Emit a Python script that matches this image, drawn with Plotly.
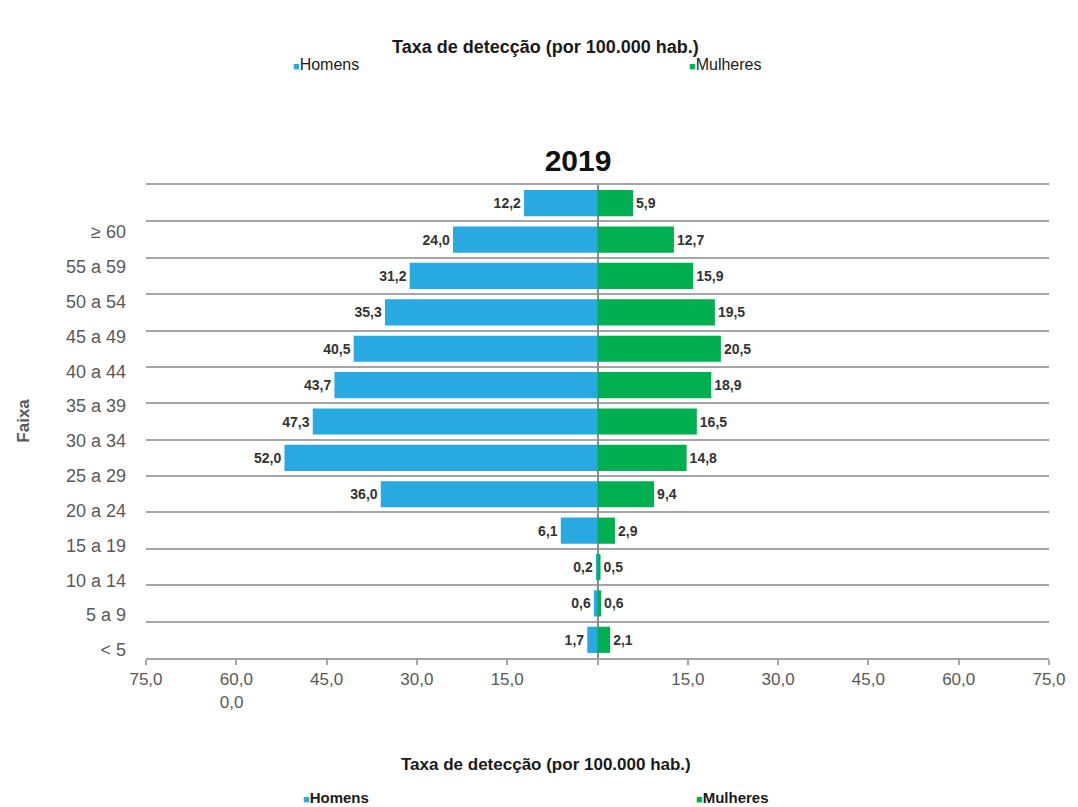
import plotly.graph_objects as go

# Age groups, bottom to top, as printed on the axis
faixas = ["< 5", "5 a 9", "10 a 14", "15 a 19", "20 a 24", "25 a 29", "30 a 34",
          "35 a 39", "40 a 44", "45 a 49", "50 a 54", "55 a 59", "≥ 60"]

# Detection rate per 100,000 inhabitants, bars listed from top to bottom
homens = [12.2, 24.0, 31.2, 35.3, 40.5, 43.7, 47.3, 52.0, 36.0, 6.1, 0.2, 0.6, 1.7]
mulheres = [5.9, 12.7, 15.9, 19.5, 20.5, 18.9, 16.5, 14.8, 9.4, 2.9, 0.5, 0.6, 2.1]

x_tick_vals = [-75, -60, -45, -30, -15, 0, 15, 30, 45, 60, 75]
x_tick_text = ["75,0", "60,0<br>0,0\u00a0\u00a0", "45,0", "30,0", "15,0", "",
               "15,0", "30,0", "45,0", "60,0", "75,0"]

AZUL = "#29A9E1"
VERDE = "#00B050"
CINZA = "#595959"
LINHA = "#A6A6A6"

W, H = 1078, 807
ML, MR, MT, MB = 146, 24, 185, 149
PW, PH = W - ML - MR, H - MT - MB

ROTULO_FONTE = dict(family="Liberation Sans Narrow, Arial Narrow, Liberation Sans, Arial",
                    size=14, color="#333333", weight="bold")


def fmt(v):
    return f"{v:.1f}".replace(".", ",")


def px(x):
    return (x - ML) / PW


def py(y):
    return (H - MB - y) / PH


n = len(homens)
rows = [n - 1 - k for k in range(n)]

fig = go.Figure()
fig.add_trace(go.Bar(
    y=rows, x=[-v for v in homens], orientation="h", name="Homens",
    marker=dict(color=AZUL, line=dict(width=0)), width=0.72,
    text=[fmt(v) for v in homens], textposition="outside", textfont=ROTULO_FONTE,
    cliponaxis=False, showlegend=False,
))
fig.add_trace(go.Bar(
    y=rows, x=mulheres, orientation="h", name="Mulheres",
    marker=dict(color=VERDE, line=dict(width=0)), width=0.72,
    text=[fmt(v) for v in mulheres], textposition="outside", textfont=ROTULO_FONTE,
    cliponaxis=False, showlegend=False,
))
# carrier for the age-group label axis
fig.add_trace(go.Scatter(x=[None], y=[None], yaxis="y2", showlegend=False,
                         hoverinfo="skip"))

fig.update_layout(
    width=W, height=H,
    margin=dict(l=ML, r=MR, t=MT, b=MB, pad=0),
    paper_bgcolor="white", plot_bgcolor="white",
    barmode="overlay",
    font=dict(family="Liberation Sans, Arial", color=CINZA),
    title=dict(text="<b>2019</b>", x=578 / W, xanchor="center",
               y=1 - 160 / H, yanchor="middle",
               font=dict(size=30, color="#111111", family="Liberation Sans, Arial")),
    xaxis=dict(
        range=[-75, 75], tickvals=x_tick_vals, ticktext=x_tick_text,
        showgrid=False, zeroline=True, zerolinecolor="#8C8C8C", zerolinewidth=1.5,
        showline=True, mirror=True, linecolor=LINHA, linewidth=2,
        ticks="outside", ticklen=5, tickwidth=1.5, tickcolor=LINHA,
        tickfont=dict(size=17, color=CINZA), fixedrange=True,
    ),
    yaxis=dict(
        range=[-0.5, n - 0.5],
        tickvals=[k - 0.5 for k in range(n + 1)],
        showticklabels=False, ticks="",
        showgrid=True, gridcolor=LINHA, gridwidth=2,
        zeroline=False, showline=False, fixedrange=True,
    ),
    yaxis2=dict(
        overlaying="y", side="left", anchor="x",
        range=[-0.23, 13.35],
        tickvals=list(range(len(faixas))), ticktext=faixas,
        showgrid=False, zeroline=False, showline=False,
        ticks="", ticklabelstandoff=19,
        tickfont=dict(size=18, color=CINZA), fixedrange=True,
    ),
)

legenda_titulo = "Taxa de detecção (por 100.000 hab.)"
ann = [
    dict(text="<b>Faixa</b>", textangle=-90, x=px(22), y=py(421),
         font=dict(size=17, color=CINZA)),
    dict(text=f"<b>{legenda_titulo}</b>", x=px(548), y=py(47),
         font=dict(size=18, color="#1a1a1a")),
    dict(text=f"<span style='color:{AZUL};font-size:11px'>■</span>Homens",
         x=px(292), y=py(64), xanchor="left", font=dict(size=16, color="#1a1a1a")),
    dict(text=f"<span style='color:{VERDE};font-size:11px'>■</span>Mulheres",
         x=px(690), y=py(64), xanchor="left", font=dict(size=16, color="#1a1a1a")),
    dict(text=f"<b>{legenda_titulo}</b>", x=px(548), y=py(764),
         font=dict(size=17, color="#1a1a1a")),
    dict(text=f"<span style='color:{AZUL};font-size:11px'>■</span><b>Homens</b>",
         x=px(302), y=py(797), xanchor="left", font=dict(size=15, color="#1a1a1a")),
    dict(text=f"<span style='color:{VERDE};font-size:11px'>■</span><b>Mulheres</b>",
         x=px(697), y=py(797), xanchor="left", font=dict(size=15, color="#1a1a1a")),
]
for a in ann:
    a.update(xref="paper", yref="paper", showarrow=False,
             xanchor=a.get("xanchor", "center"), yanchor="middle")
fig.update_layout(annotations=ann)

fig.write_html("out.html")
